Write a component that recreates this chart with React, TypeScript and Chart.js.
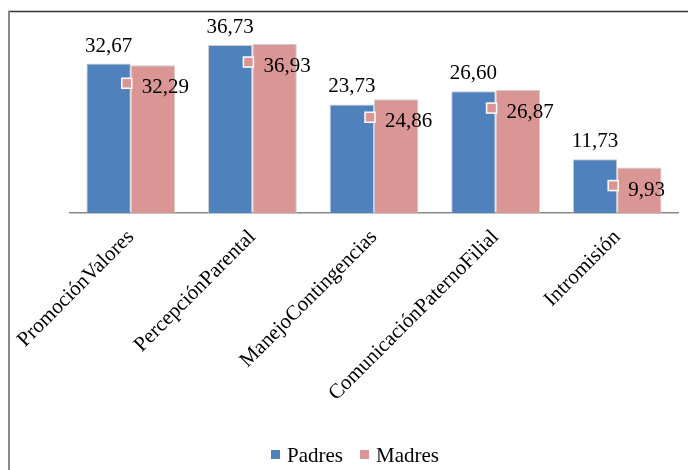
import React, { useEffect, useRef } from "react";
import { Chart, registerables } from "chart.js";

Chart.register(...registerables);

const categories = [
  "PromociónValores",
  "PercepciónParental",
  "ManejoContingencias",
  "ComunicaciónPaternoFilial",
  "Intromisión",
];
const padres = [32.67, 36.73, 23.73, 26.6, 11.73];
const madres = [32.29, 36.93, 24.86, 26.87, 9.93];
const seriesNames = ["Padres", "Madres"];
const colors = ["#4F81BD", "#D99694"];

const FONT = "'Liberation Serif', 'Times New Roman', serif";
const fmt = (v: number) => v.toFixed(2).replace(".", ",");

const decorPlugin = {
  id: "decor",
  afterDraw(chart: any) {
    const ctx = chart.ctx;
    ctx.save();
    // frame
    ctx.strokeStyle = "#333";
    ctx.lineWidth = 1.5;
    ctx.beginPath();
    ctx.moveTo(8, 11.5);
    ctx.lineTo(688, 11.5);
    ctx.stroke();
    ctx.strokeStyle = "#888";
    ctx.lineWidth = 2;
    ctx.beginPath();
    ctx.moveTo(9, 11);
    ctx.lineTo(9, 470);
    ctx.stroke();

    ctx.font = `21px ${FONT}`;
    ctx.fillStyle = "#000";
    // data labels
    const m0 = chart.getDatasetMeta(0);
    const m1 = chart.getDatasetMeta(1);
    m0.data.forEach((bar: any, i: number) => {
      const v = chart.data.datasets[0].data[i];
      ctx.textAlign = "center";
      ctx.textBaseline = "alphabetic";
      ctx.fillText(fmt(v), bar.x, bar.y - 12);
    });
    m1.data.forEach((bar: any, i: number) => {
      const v = chart.data.datasets[1].data[i];
      const left = bar.x - bar.width / 2;
      const mx = left - 4;
      const my = bar.y + 18;
      ctx.fillStyle = colors[1];
      ctx.fillRect(mx - 5, my - 5, 10, 10);
      ctx.strokeStyle = "#fff";
      ctx.lineWidth = 1.5;
      ctx.strokeRect(mx - 5, my - 5, 10, 10);
      ctx.fillStyle = "#000";
      ctx.textAlign = "left";
      ctx.textBaseline = "alphabetic";
      ctx.fillText(fmt(v), mx + 15, bar.y + 28);
    });

    // legend
    ctx.textBaseline = "alphabetic";
    ctx.textAlign = "left";
    const items = [
      { x: 271, label: seriesNames[0], c: colors[0] },
      { x: 360, label: seriesNames[1], c: colors[1] },
    ];
    items.forEach((it) => {
      ctx.fillStyle = it.c;
      ctx.fillRect(it.x, 450, 9, 9);
      ctx.fillStyle = "#000";
      ctx.fillText(it.label, it.x + 16, 462);
    });
    ctx.restore();
  },
};

export default function App() {
  const ref = useRef<HTMLCanvasElement | null>(null);
  useEffect(() => {
    if (!ref.current) return;
    const chart = new Chart(ref.current, {
      type: "bar",
      data: {
        labels: categories,
        datasets: [
          {
            label: seriesNames[0],
            data: padres,
            backgroundColor: colors[0],
            borderColor: "rgba(200,200,200,0.9)",
            borderWidth: 1,
          },
          {
            label: seriesNames[1],
            data: madres,
            backgroundColor: colors[1],
            borderColor: "rgba(200,200,200,0.9)",
            borderWidth: 1,
          },
        ],
      },
      options: {
        animation: false,
        responsive: true,
        maintainAspectRatio: false,
        layout: { padding: { left: 70, right: 10, top: 30, bottom: 0 } },
        plugins: { legend: { display: false }, tooltip: { enabled: false } },
        datasets: { bar: { categoryPercentage: 0.73, barPercentage: 1 } },
        scales: {
          x: {
            grid: { display: false },
            border: { display: true, color: "#888", width: 1.5 },
            ticks: {
              color: "#000",
              font: { family: FONT, size: 21 },
              minRotation: 45,
              maxRotation: 45,
              padding: 4,
              autoSkip: false,
            },
            afterFit(scale: any) {
              scale.height = 257;
            },
          },
          y: { display: false, min: 0, max: 40 },
        },
      },
      plugins: [decorPlugin],
    });
    return () => chart.destroy();
  }, []);
  return (
    <div style={{ position: "absolute", left: 0, top: 0, width: 688, height: 470, background: "#fff" }}>
      <canvas ref={ref} />
    </div>
  );
}
